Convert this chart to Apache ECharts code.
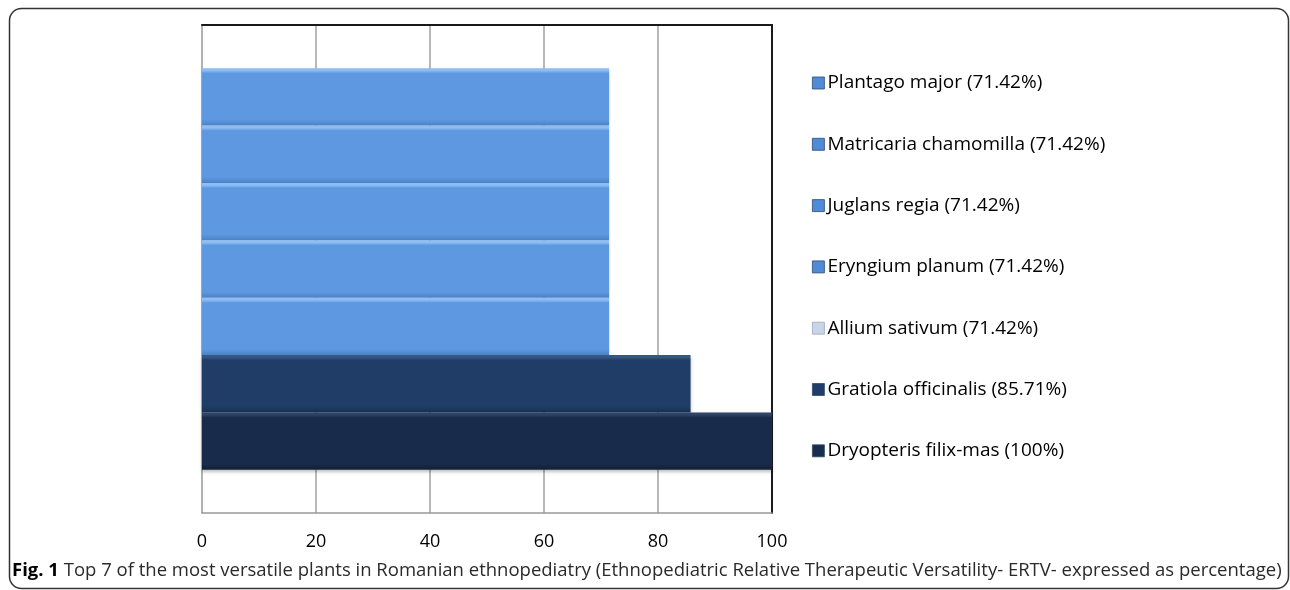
<!DOCTYPE html>
<html>
<head>
<meta charset="utf-8">
<script src="https://cdn.jsdelivr.net/npm/echarts@6/dist/echarts.min.js"></script>
<style>
html,body{margin:0;padding:0;background:#fff;}
#chart{width:1290px;height:590px;}
</style>
</head>
<body>
<div id="chart"></div>
<script>
// Data (top to bottom as drawn)
const plants = ['Plantago major', 'Matricaria chamomilla', 'Juglans regia', 'Eryngium planum', 'Allium sativum', 'Gratiola officinalis', 'Dryopteris filix-mas'];
const legendLabels = ['Plantago major (71.42%)', 'Matricaria chamomilla (71.42%)', 'Juglans regia (71.42%)', 'Eryngium planum (71.42%)', 'Allium sativum (71.42%)', 'Gratiola officinalis (85.71%)', 'Dryopteris filix-mas (100%)'];
const ertv = [71.42, 71.42, 71.42, 71.42, 71.42, 85.71, 100];
const xTicks = [0, 20, 40, 60, 80, 100];
const captionBold = 'Fig. 1';
const captionText = ' Top 7 of the most versatile plants in Romanian ethnopediatry (Ethnopediatric Relative Therapeutic Versatility- ERTV- expressed as percentage)';

// Styles
const barBase = ['#5D98E0', '#5D98E0', '#5D98E0', '#5D98E0', '#5D98E0', '#1F3D66', '#182B4A'];
const barTop = ['#8DBDF2', '#8DBDF2', '#8DBDF2', '#8DBDF2', '#8DBDF2', '#365783', '#2D4468'];
const barBottom = ['#4C82C6', '#4C82C6', '#4C82C6', '#4C82C6', '#4C82C6', '#17304F', '#111F36'];
const iconColors = ['#4F8BD6', '#4F8BD6', '#4F8BD6', '#4F8BD6', '#C9D5E6', '#1F3D66', '#1A2D4D'];

function grad(i) {
  return new echarts.graphic.LinearGradient(0, 0, 0, 1, [
    {offset: 0, color: barTop[i]},
    {offset: 0.04, color: barTop[i]},
    {offset: 0.09, color: barBase[i]},
    {offset: 0.90, color: barBase[i]},
    {offset: 1, color: barBottom[i]}
  ]);
}

const series = plants.map((p, i) => ({
  name: legendLabels[i],
  type: 'bar',
  data: [ertv[i]],
  barGap: '0%',
  barCategoryGap: '17.7%',
  itemStyle: {
    color: grad(i),
    shadowColor: 'rgba(0,0,0,0.25)',
    shadowBlur: 3,
    shadowOffsetY: 2
  },
  emphasis: {disabled: true},
  animation: false
}));

const chart = echarts.init(document.getElementById('chart'), null, {renderer: 'canvas'});
chart.setOption({
  animation: false,
  grid: {left: 202, right: 518, top: 25, bottom: 77, containLabel: false},
  legend: {
    orient: 'vertical',
    left: 812,
    top: 73,
    padding: 0,
    itemWidth: 12,
    itemHeight: 12,
    itemGap: 41.3,
    icon: 'rect',
    selectedMode: false,
    textStyle: {fontFamily: 'Open Sans', fontSize: 19, color: '#000', lineHeight: 20, padding: [0, 0, 0, -2]},
    data: legendLabels.map((l, i) => ({name: l, itemStyle: {color: iconColors[i], borderColor: i === 4 ? '#9AA8BC' : '#2E4A70', borderWidth: 0.8}}))
  },
  xAxis: [{
    type: 'value', min: xTicks[0], max: xTicks[xTicks.length - 1], interval: 20,
    axisLine: {show: true, onZero: false, lineStyle: {color: '#999', width: 1.5}},
    axisTick: {show: false},
    splitLine: {show: true, showMinLine: false, showMaxLine: false, lineStyle: {color: '#A0A0A0', width: 1.5}},
    axisLabel: {color: '#000', fontFamily: 'Open Sans', fontSize: 18, margin: 20}
  }, {
    type: 'value', position: 'top', min: 0, max: 100,
    axisLine: {show: true, onZero: false, lineStyle: {color: '#1a1a1a', width: 2}},
    axisTick: {show: false}, axisLabel: {show: false}, splitLine: {show: false}
  }],
  yAxis: [{
    type: 'category', data: [''], position: 'left',
    axisLine: {show: true, onZero: false, lineStyle: {color: '#999', width: 1.5}},
    axisTick: {show: false}, axisLabel: {show: false}
  }, {
    type: 'category', data: [''], position: 'right',
    axisLine: {show: true, onZero: false, lineStyle: {color: '#1a1a1a', width: 2}},
    axisTick: {show: false}, axisLabel: {show: false}
  }],
  series: series,
  graphic: [{
    type: 'rect',
    shape: {x: 9.5, y: 8.5, width: 1279, height: 580, r: 12},
    style: {fill: 'none', stroke: '#333', lineWidth: 1.5},
    silent: true, z: -1
  }, {
    type: 'text',
    left: 12, top: 561,
    style: {
      text: '{b|' + captionBold + '}{r|' + captionText + '}',
      rich: {
        b: {fontFamily: 'Open Sans', fontWeight: 'bold', fontSize: 18.5, fill: '#000'},
        r: {fontFamily: 'Open Sans', fontSize: 18.5, fill: '#2a2a2a'}
      }
    }
  }]
});
</script>
</body>
</html>
